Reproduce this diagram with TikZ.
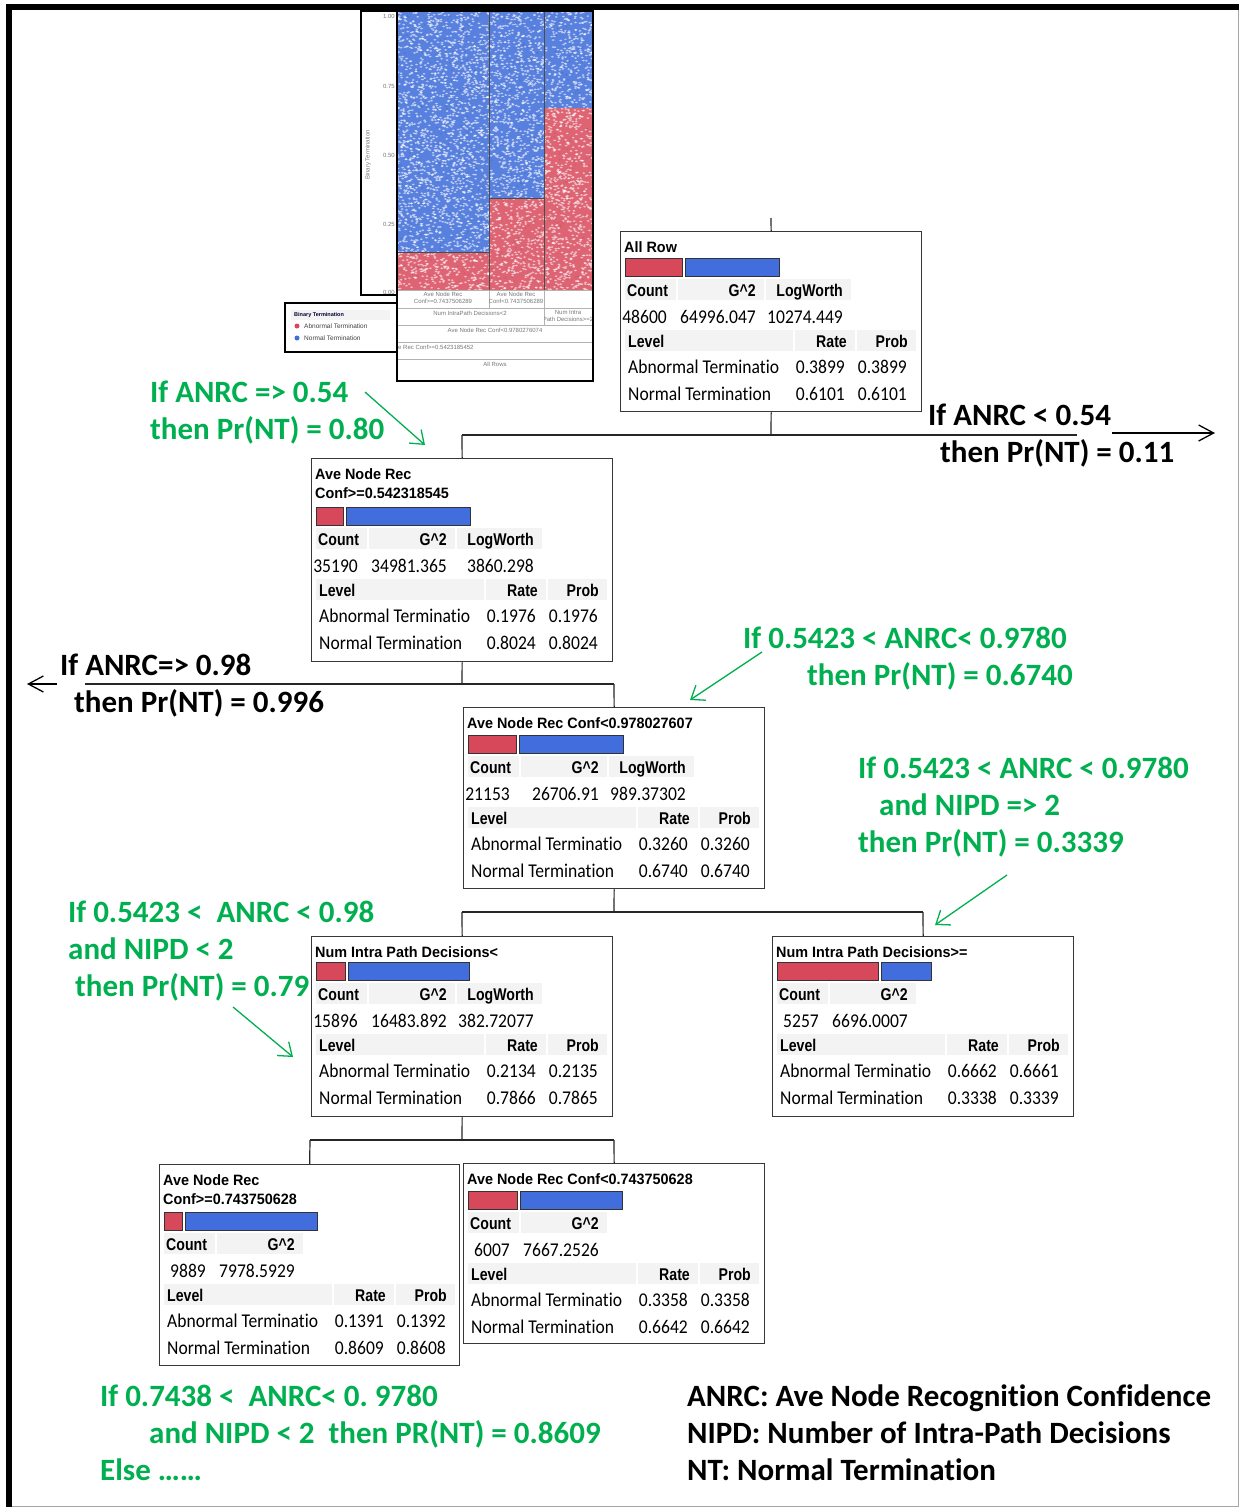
\documentclass[tikz,border=0pt]{standalone}
\usepackage{fontspec}
\setmainfont{Carlito}[Ligatures=NoCommon]
\newfontfamily\ttlfont[FakeStretch=0.96]{Liberation Sans}
\newfontfamily\hdrfont[FakeStretch=0.83]{Liberation Sans}
\newfontfamily\cellfont[FakeStretch=0.9,Ligatures=NoCommon]{Carlito}
\newfontfamily\plotfont{Liberation Sans}
\newfontfamily\notefont[Ligatures=NoCommon]{Carlito}
\usetikzlibrary{arrows.meta}
\frenchspacing

\definecolor{notegreen}{RGB}{0,176,80}
\definecolor{abnred}{RGB}{214,72,90}
\definecolor{normblue}{RGB}{65,110,220}
\definecolor{mosred}{RGB}{222,100,116}
\definecolor{mosblue}{RGB}{88,128,222}
\definecolor{cellgray}{RGB}{243,243,243}
\definecolor{boxline}{RGB}{55,55,55}
\definecolor{plotgray}{RGB}{120,120,120}

\tikzset{
  jbox/.style={draw=boxline, line width=1.3pt, rectangle, inner sep=0pt, anchor=north west},
  conn/.style={draw=black!85, line width=1.2pt},
  ttl/.style={font=\ttlfont\bfseries\fontsize{15}{19}\selectfont, inner sep=0pt, anchor=base west},
  hdr/.style={font=\hdrfont\bfseries\fontsize{17}{20}\selectfont, inner sep=0pt},
  cell/.style={font=\cellfont\fontsize{19.5}{22}\selectfont, inner sep=0pt},
  note/.style={font=\notefont\bfseries\fontsize{31}{37}\selectfont, inner sep=0pt, anchor=base west},
  gnote/.style={note, text=notegreen},
  garrow/.style={draw=notegreen, line width=1.3pt, -{Straight Barb[length=12pt,width=18pt]}},
  karrow/.style={draw=black, line width=1.3pt, -{Straight Barb[length=15pt,width=16pt]}},
  redbar/.style={fill=abnred, draw=black!80, line width=1pt},
  bluebar/.style={fill=normblue, draw=black!80, line width=1pt},
  plottxt/.style={font=\plotfont\fontsize{6}{7}\selectfont, text=plotgray, inner sep=0pt},
}

% proportion bars of a split node: prefix, box left, bar top, red width, blue width
\newcommand{\jbars}[5]{%
  \path[redbar] (#2+5,#3) rectangle ++(#4,18);
  \path[bluebar] (#2+8+#4,#3) rectangle ++(#5,18);
}
% count / G^2 / LogWorth block: prefix, box left, bar top, count, g2, logworth
\newcommand{\jstats}[6]{%
  \fill[cellgray] (#2+5,#3+21) rectangle (#2+56,#3+42);
  \fill[cellgray] (#2+58,#3+21) rectangle (#2+144,#3+42);
  \node[hdr,anchor=base west] (#1-hc) at (#2+7,#3+38) {Count};
  \node[hdr,anchor=base east] (#1-hg) at (#2+136,#3+38) {G\textasciicircum 2};
  \node[cell,anchor=base east] (#1-vc) at (#2+47,#3+65) {#4};
  \node[cell,anchor=base east] (#1-vg) at (#2+136,#3+65) {#5};
  \if\relax\detokenize{#6}\relax\else
    \fill[cellgray] (#2+146,#3+21) rectangle (#2+231,#3+42);
    \node[hdr,anchor=base east] (#1-hl) at (#2+223,#3+38) {LogWorth};
    \node[cell,anchor=base east] (#1-vl) at (#2+223,#3+65) {#6};
  \fi
}
% level table: prefix, box left, bar top, rate1, prob1, rate2, prob2
\newcommand{\jlevels}[7]{%
  \fill[cellgray] (#2+5,#3+72) rectangle (#2+173,#3+93);
  \fill[cellgray] (#2+175,#3+72) rectangle (#2+235,#3+93);
  \fill[cellgray] (#2+237,#3+72) rectangle (#2+296,#3+93);
  \node[hdr,anchor=base west] (#1-hlev) at (#2+8,#3+89) {Level};
  \node[hdr,anchor=base east] (#1-hrate) at (#2+227,#3+89) {Rate};
  \node[hdr,anchor=base east] (#1-hprob) at (#2+288,#3+89) {Prob};
  \node[cell,anchor=base west] (#1-l1) at (#2+8,#3+115) {Abnormal Terminatio};
  \node[cell,anchor=base east] (#1-r1) at (#2+225,#3+115) {#4};
  \node[cell,anchor=base east] (#1-p1) at (#2+287,#3+115) {#5};
  \node[cell,anchor=base west] (#1-l2) at (#2+8,#3+142) {Normal Termination};
  \node[cell,anchor=base east] (#1-r2) at (#2+225,#3+142) {#6};
  \node[cell,anchor=base east] (#1-p2) at (#2+287,#3+142) {#7};
}

\begin{document}
\begin{tikzpicture}[x=1pt,y=-1pt]
\useasboundingbox (0,0) rectangle (1239,1507);
\fill[white] (0,0) rectangle (1239,1507);

% frame
\draw[line width=6pt] (6,7) -- (1239,7);
\draw[line width=6pt] (9,4) -- (9,1507);
\draw[gray!70, line width=1pt] (1238,10) -- (1238,1506) -- (12,1506);

% ---------- mosaic plot ----------
\begin{scope}
  \clip (397,12) rectangle (593,290);
  \fill[mosblue] (397,12) rectangle (593,290);
  \fill[mosred] (397,252) rectangle (489,290);
  \fill[mosred] (489,198) rectangle (544,290);
  \fill[mosred] (544,108) rectangle (593,290);
  % speckled texture of the point cloud
  \pgfmathsetseed{11}
  \foreach \i in {1,...,4200}{
    \pgfmathsetmacro\px{397+196*rnd}
    \pgfmathsetmacro\py{12+278*rnd}
    \fill[white,opacity=0.6] (\px,\py) ellipse[x radius=1.5, y radius=0.9];
  }
  \foreach \i in {1,...,600}{
    \pgfmathsetmacro\px{397+196*rnd}
    \pgfmathsetmacro\py{12+278*rnd}
    \fill[black,opacity=0.08] (\px,\py) circle[radius=1.0];
  }
  \draw[black!70, line width=0.8pt] (489,12) -- (489,290) (544,12) -- (544,290)
    (397,252) -- (489,252) (489,198) -- (544,198);
\end{scope}
% label strips under the mosaic
\draw[gray!60, line width=0.6pt] (397,290) -- (593,290) (397,308) -- (593,308)
  (397,325) -- (593,325) (397,342) -- (593,342) (397,359) -- (593,359)
  (489,290) -- (489,308) (544,290) -- (544,325);
\begin{scope}
  \clip (397,290) rectangle (489,308);
  \node[plottxt, align=center, anchor=north] (m11) at (443,292) {Ave Node Rec\\Conf>=0.7437506289};
\end{scope}
\begin{scope}
  \clip (489,290) rectangle (544,308);
  \node[plottxt, align=center, anchor=north] (m12) at (516,292) {Ave Node Rec\\Conf<0.7437506289};
\end{scope}
\node[plottxt] (m21) at (470,313) {Num IntraPath Decisions<2};
\begin{scope}
  \clip (544,308) rectangle (593,325);
  \node[plottxt, align=center, anchor=north] (m22) at (568,310) {Num Intra\\Path Decisions>=2};
\end{scope}
\node[plottxt] (m3) at (495,330) {Ave Node Rec Conf<0.9780276074};
\node[plottxt, anchor=west] (m4) at (398,347) {e Rec Conf>=0.5423185452};
\node[plottxt] (m5) at (495,364) {All Rows};
% axis frame, ticks and legend
\draw[black, line width=2pt] (397,11) -- (361,11) -- (361,295) -- (397,295);
\draw[black, line width=2.5pt] (397,11) rectangle (593,381);
\node[plottxt, anchor=east] (t100) at (395,16) {1.00};
\node[plottxt, anchor=east] (t075) at (395,86) {0.75};
\node[plottxt, anchor=east] (t050) at (395,155) {0.50};
\node[plottxt, anchor=east] (t025) at (395,224) {0.25};
\node[plottxt, anchor=east] (t000) at (395,292) {0.00};
\node[plottxt, rotate=90] (yax) at (368,155) {Binary Termination};
\draw[black, line width=2pt] (285,303) rectangle (397,352);
\fill[cellgray] (291,310) rectangle (390,320);
\node[plottxt, anchor=west, text=black!80!blue, font=\plotfont\bfseries\fontsize{5.5}{7}\selectfont] (lgt) at (294,315) {Binary Termination};
\fill[abnred] (297,326) circle[radius=2.5];
\fill[normblue] (297,338) circle[radius=2.5];
\node[plottxt, anchor=west, text=black!75, font=\plotfont\fontsize{6.5}{7}\selectfont] (lga) at (304,326) {Abnormal Termination};
\node[plottxt, anchor=west, text=black!75, font=\plotfont\fontsize{6.5}{7}\selectfont] (lgn) at (304,338) {Normal Termination};

% ---------- tree nodes ----------
\node[jbox, minimum width=301pt, minimum height=180pt] (nA) at (620,231) {};
\node[ttl] (nA-t) at (624,252) {All Row};
\jbars{nA}{620}{258}{57}{94}
\jstats{nA}{620}{258}{48600}{64996.047}{10274.449}
\jlevels{nA}{620}{258}{0.3899}{0.3899}{0.6101}{0.6101}

\node[jbox, minimum width=301pt, minimum height=203pt] (nB) at (311,458) {};
\node[ttl] (nB-t1) at (315,479) {Ave Node Rec};
\node[ttl] (nB-t2) at (315,498) {Conf>=0.542318545};
\jbars{nB}{311}{507}{27}{124}
\jstats{nB}{311}{507}{35190}{34981.365}{3860.298}
\jlevels{nB}{311}{507}{0.1976}{0.1976}{0.8024}{0.8024}

\node[jbox, minimum width=301pt, minimum height=181pt] (nC) at (463,707) {};
\node[ttl] (nC-t) at (467,728) {Ave Node Rec Conf<0.978027607};
\jbars{nC}{463}{735}{48}{104}
\jstats{nC}{463}{735}{21153}{26706.91}{989.37302}
\jlevels{nC}{463}{735}{0.3260}{0.3260}{0.6740}{0.6740}

\node[jbox, minimum width=301pt, minimum height=180pt] (nD) at (311,936) {};
\node[ttl] (nD-t) at (315,957) {Num Intra Path Decisions<};
\jbars{nD}{311}{962}{29}{121}
\jstats{nD}{311}{962}{15896}{16483.892}{382.72077}
\jlevels{nD}{311}{962}{0.2134}{0.2135}{0.7866}{0.7865}

\node[jbox, minimum width=301pt, minimum height=180pt] (nE) at (772,936) {};
\node[ttl] (nE-t) at (776,957) {Num Intra Path Decisions>=};
\jbars{nE}{772}{962}{101}{50}
\jstats{nE}{772}{962}{5257}{6696.0007}{}
\jlevels{nE}{772}{962}{0.6662}{0.6661}{0.3338}{0.3339}

\node[jbox, minimum width=300pt, minimum height=201pt] (nF) at (159,1164) {};
\node[ttl] (nF-t1) at (163,1185) {Ave Node Rec};
\node[ttl] (nF-t2) at (163,1204) {Conf>=0.743750628};
\jbars{nF}{159}{1212}{18}{132}
\jstats{nF}{159}{1212}{9889}{7978.5929}{}
\jlevels{nF}{159}{1212}{0.1391}{0.1392}{0.8609}{0.8608}

\node[jbox, minimum width=301pt, minimum height=180pt] (nG) at (463,1163) {};
\node[ttl] (nG-t) at (467,1184) {Ave Node Rec Conf<0.743750628};
\jbars{nG}{463}{1191}{49}{102}
\jstats{nG}{463}{1191}{6007}{7667.2526}{}
\jlevels{nG}{463}{1191}{0.3358}{0.3358}{0.6642}{0.6642}

% ---------- tree connectors ----------
\coordinate (rootTop) at (771,218);
\coordinate (jA) at (771,435);
\coordinate (jAL) at (462,435);
\coordinate (jAR) at (1077,435);
\coordinate (jB) at (462,684);
\coordinate (jBL) at (85,684);
\coordinate (jBR) at (614,684);
\coordinate (jC) at (614,912);
\coordinate (jCL) at (462,912);
\coordinate (jCR) at (923,912);
\coordinate (jD) at (462,1140);
\coordinate (jDL) at (310,1140);
\coordinate (jDR) at (614,1140);

\draw[conn] (rootTop) -- (nA.north);
\draw[conn] (nA.south) -- (jA);
\draw[conn] (jAL) -- (jAR);
\draw[conn] (jAL) -- (nB.north);
\draw[conn] (nB.south) -- (jB);
\draw[conn] (jBL) -- (jBR);
\draw[conn] (jBR) -- (nC.north);
\draw[conn] (nC.south) -- (jC);
\draw[conn] (jCL) -- (jCR);
\draw[conn] (jCL) -- (nD.north);
\draw[conn] (jCR) -- (nE.north);
\draw[conn] (nD.south) -- (jD);
\draw[conn] (jDL) -- (jDR);
\draw[conn] (jDL) -- (nF.north);
\draw[conn] (jDR) -- (nG.north);

% ---------- branch notes ----------
\node[note] (k1a) at (928,425) {If ANRC < 0.54};
\node[note] (k1b) at (940,462) {then Pr(NT) = 0.11};
\coordinate (k1s) at (1112,433);
\coordinate (k1e) at (1215,433);
\draw[karrow] (k1s) -- (k1e);

\node[note] (k2a) at (60,675) {If ANRC=> 0.98};
\node[note] (k2b) at (74,712) {then Pr(NT) = 0.996};
\coordinate (k2s) at (57,684);
\coordinate (k2e) at (27,684);
\draw[karrow] (k2s) -- (k2e);

\node[gnote] (g1a) at (150,402) {If ANRC => 0.54};
\node[gnote] (g1b) at (150,439) {then Pr(NT) = 0.80};
\coordinate (g1s) at (365,392);
\coordinate (g1e) at (425,445);
\draw[garrow] (g1s) -- (g1e);

\node[gnote] (g2a) at (743,648) {If 0.5423 < ANRC< 0.9780};
\node[gnote] (g2b) at (807,685) {then Pr(NT) = 0.6740};
\coordinate (g2s) at (762,652);
\coordinate (g2e) at (690,700);
\draw[garrow] (g2s) -- (g2e);

\node[gnote] (g3a) at (858,778) {If 0.5423 < ANRC < 0.9780};
\node[gnote] (g3b) at (879,815) {and NIPD => 2};
\node[gnote] (g3c) at (858,852) {then Pr(NT) = 0.3339};
\coordinate (g3s) at (1007,875);
\coordinate (g3e) at (935,925);
\draw[garrow] (g3s) -- (g3e);

\node[gnote] (g4a) at (68,922) {If 0.5423 <\ \ ANRC < 0.98};
\node[gnote] (g4b) at (68,959) {and NIPD < 2};
\node[gnote] (g4c) at (75,996) {then Pr(NT) = 0.79};
\coordinate (g4s) at (233,1007);
\coordinate (g4e) at (293,1057);
\draw[garrow] (g4s) -- (g4e);

\node[gnote] (g5a) at (100,1406) {If 0.7438 <\ \ ANRC< 0. 9780};
\node[gnote] (g5b) at (149,1443) {and NIPD < 2\ \ then PR(NT) = 0.8609};
\node[gnote] (g5c) at (100,1480) {Else ……};

\node[note] (d1) at (687,1406) {ANRC: Ave Node Recognition Confidence};
\node[note] (d2) at (687,1443) {NIPD: Number of Intra-Path Decisions};
\node[note] (d3) at (687,1480) {NT: Normal Termination};
\end{tikzpicture}
\end{document}
